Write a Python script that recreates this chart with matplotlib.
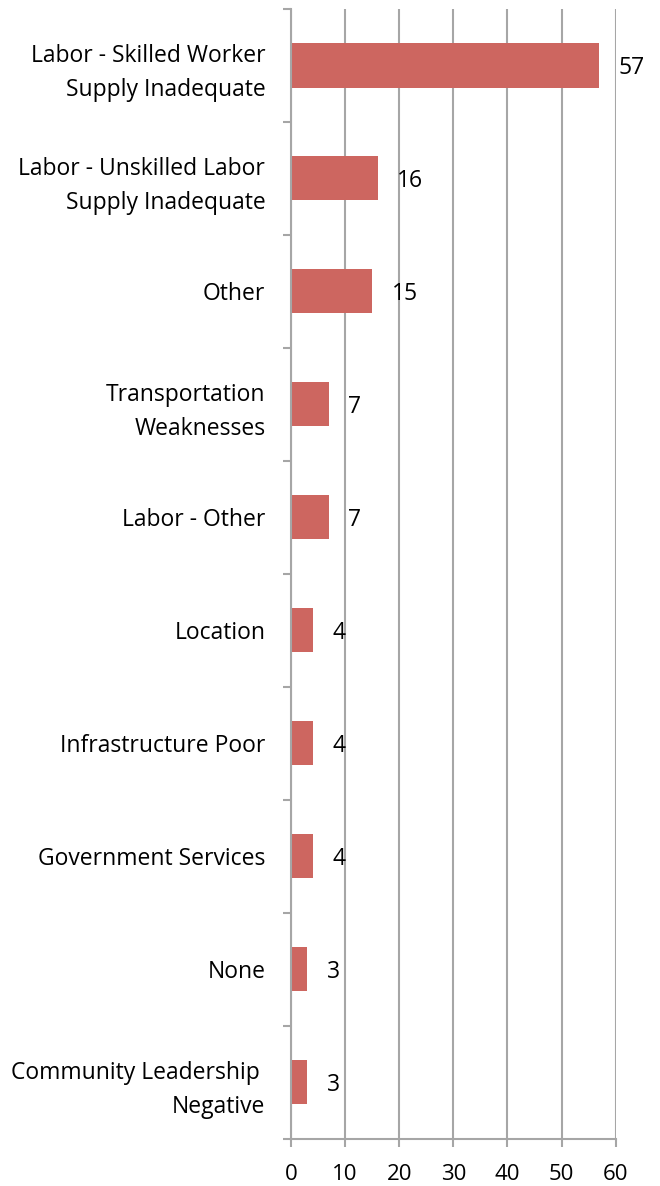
import matplotlib as mpl
mpl.use('Agg')
import matplotlib.pyplot as plt
import numpy as np
from matplotlib.ticker import FixedLocator, NullFormatter

FONT = ['Open Sans', 'DejaVu Sans']
BAR_COLOR = "#cd6660"
GRID_COLOR = "#a6a6a6"

categories = [
    "Labor - Skilled Worker\nSupply Inadequate",
    "Labor - Unskilled Labor\nSupply Inadequate",
    "Other",
    "Transportation\nWeaknesses",
    "Labor - Other",
    "Location",
    "Infrastructure Poor",
    "Government Services",
    "None",
    "Community Leadership \nNegative",
]
counts = [57, 16, 15, 7, 7, 4, 4, 4, 3, 3]
x_ticks = [0, 10, 20, 30, 40, 50, 60]

plt.rcParams['font.family'] = FONT

fig = plt.figure(figsize=(6.6, 11.86), dpi=100)
ax = fig.add_axes([0.4409, 0.0399, 0.4920, 0.9525])

y = np.arange(len(categories))
ax.barh(y, counts, height=0.39, color=BAR_COLOR, zorder=3)

# value labels just past the end of each bar
for yi, v in zip(y, counts):
    ax.annotate(str(v), xy=(v, yi), xytext=(14, -2), textcoords='offset points',
                ha='left', va='center', fontsize=16.5, color='black')

ax.set_xlim(0, 60)
ax.set_ylim(len(categories) - 0.5, -0.5)
ax.set_xticks(x_ticks)
ax.set_xticklabels([str(t) for t in x_ticks], fontsize=16)
ax.xaxis.grid(True, color=GRID_COLOR, linewidth=1.5, zorder=0)

# boundary ticks between categories, labels at centres
ax.yaxis.set_major_locator(FixedLocator(np.arange(-0.5, len(categories), 1.0)))
ax.yaxis.set_major_formatter(NullFormatter())
ax.yaxis.set_minor_locator(FixedLocator(y))
ax.set_yticklabels(categories, minor=True, fontsize=16.5, ha='right',
                   linespacing=1.55)
ax.tick_params(axis='y', which='minor', length=0, pad=18.5)
ax.tick_params(axis='y', which='major', length=6, width=1.5, color=GRID_COLOR)
ax.tick_params(axis='x', length=6, width=1.5, color=GRID_COLOR, pad=12)

for side in ['top', 'right']:
    ax.spines[side].set_visible(False)
for side in ['left', 'bottom']:
    ax.spines[side].set_color(GRID_COLOR)
    ax.spines[side].set_linewidth(1.5)
    ax.spines[side].set_zorder(4)

fig.savefig('out.png', dpi=100)
